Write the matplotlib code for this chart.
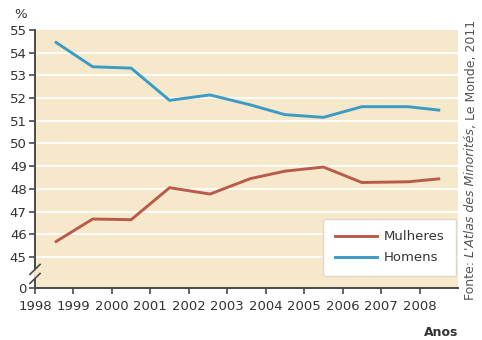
import numpy as np
import matplotlib.pyplot as plt

# approximate positions of the points (year) and values (%)
anos = [1998.55, 1999.5, 2000.5, 2001.5, 2002.55, 2003.6, 2004.5, 2005.5, 2006.5, 2007.7, 2008.5]
homens = [54.45, 53.38, 53.32, 51.9, 52.14, 51.7, 51.27, 51.15, 51.62, 51.62, 51.47]
mulheres = [45.68, 46.67, 46.64, 48.05, 47.77, 48.45, 48.78, 48.96, 48.28, 48.31, 48.44]

x_ticks = list(range(1998, 2009))
y_ticks = list(range(45, 56))
y_zero = 43.63  # where the "0" sits after the axis break

bg = '#f6e8cb'
grey = '#4a4a4a'
c_h = '#3a9cc6'
c_m = '#b95b4b'

plt.rcParams['font.family'] = ['DejaVu Sans']

fig = plt.figure(figsize=(4.82, 3.4), dpi=100)
ax = fig.add_axes([35 / 482, 1 - 288 / 340, 423 / 482, 258 / 340])
ax.set_facecolor(bg)
ax.set_xlim(1998, 2009)
ax.set_ylim(y_zero, 55)

for y in y_ticks[:-1]:
    ax.axhline(y, color='white', lw=1.3, zorder=1)

ax.plot(anos, mulheres, color=c_m, lw=2.1, label='Mulheres', zorder=3)
ax.plot(anos, homens, color=c_h, lw=2.1, label='Homens', zorder=3)

ax.set_xticks(x_ticks)
ax.set_xticklabels([str(a) for a in x_ticks])
ax.set_yticks([y_zero] + y_ticks)
ax.set_yticklabels(['0'] + [str(v) for v in y_ticks])
ax.tick_params(axis='both', colors=grey, labelcolor='#333333', labelsize=9.5,
               length=4, width=1.2, direction='out')
ax.tick_params(axis='x', pad=5)
ax.tick_params(axis='y', pad=2)

for s in ['top', 'right']:
    ax.spines[s].set_visible(False)
for s in ['left', 'bottom']:
    ax.spines[s].set_color(grey)
    ax.spines[s].set_linewidth(1.4)

# axis break marks
for yb in [44.05, 44.45]:
    ax.plot([-0.012, 0.012], [yb - 0.22, yb + 0.22], transform=ax.get_yaxis_transform(),
            color=grey, lw=1.2, clip_on=False, zorder=5)
ax.plot([0, 0], [44.12, 44.38], transform=ax.get_yaxis_transform(),
        color=bg, lw=2, clip_on=False, zorder=4)

leg = ax.legend(loc='lower right', bbox_to_anchor=(1.012, 0.02), fontsize=9.5,
                frameon=True, fancybox=True, handlelength=3.2, borderpad=0.9,
                labelspacing=0.6, handletextpad=0.5)
leg.get_frame().set_facecolor('white')
leg.get_frame().set_edgecolor('#e0d8c8')
leg.get_frame().set_alpha(1)
for t in leg.get_texts():
    t.set_color('#333333')

fig.text(14 / 482, 1 - 14 / 340, '%', fontsize=9.5, color='#333333', ha='left', va='center')
fig.text(458 / 482, 1 - 332 / 340, 'Anos', fontsize=9, color='#333333', fontweight='bold',
         ha='right', va='center')

# rotated source line, with the title part in italic
fig.canvas.draw()
r = fig.canvas.get_renderer()
parts = [('Fonte:\u00a0', 'normal'), ("L'Atlas des Minorités", 'italic'), (',\u00a0Le Monde, 2011', 'normal')]
y0 = 1 - 300 / 340
for txt, style in parts:
    t = fig.text(471 / 482, y0, txt, rotation=90, fontsize=9, color='#555555',
                 style=style, ha='left', va='center', rotation_mode='anchor')
    bb = t.get_window_extent(renderer=r)
    y0 += bb.height / fig.bbox.height

fig.savefig('out.png', dpi=100, facecolor='white')
